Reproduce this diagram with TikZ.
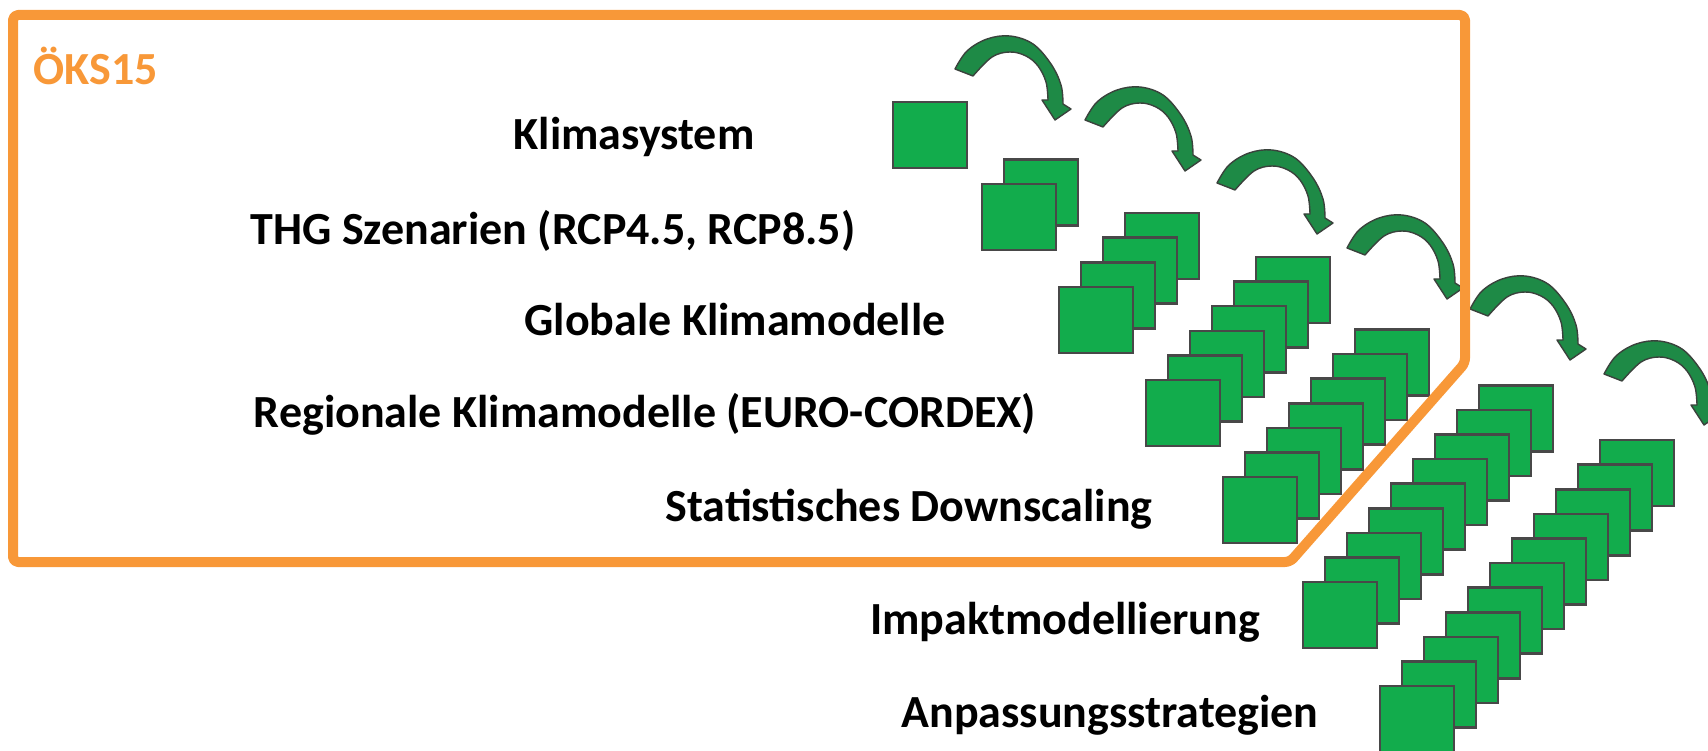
\documentclass[tikz,border=0pt]{standalone}
\usepackage{fontspec}
\setmainfont{Carlito}
\definecolor{okorange}{RGB}{248,152,56}
\definecolor{sqgreen}{RGB}{18,172,76}
\definecolor{sqedge}{RGB}{72,72,72}
\definecolor{arrgreen}{RGB}{30,138,70}
\definecolor{arredge}{RGB}{58,66,60}
\begin{document}
\begin{tikzpicture}[x=1pt,y=-1pt,
  lbl/.style={font=\fontsize{46}{52}\selectfont\bfseries, anchor=base, inner sep=0pt},
  sq/.style={draw=sqedge, fill=sqgreen, line width=2.6pt, minimum width=74pt, minimum height=66pt, inner sep=0pt, outer sep=0pt},
  curvarrow/.style={fill=arrgreen, draw=arredge, line width=1.4pt, line join=round},
  okframe/.style={draw=okorange, line width=10pt, rounded corners=5pt, line join=round}]
\useasboundingbox (0,0) rectangle (1708,751);
\fill[white] (0,0) rectangle (1708,751);

% stacks of squares
\foreach \x/\y/\n [count=\s] in {893/102/1, 982/184/2, 1059/287/4, 1146/380/6, 1223/477/7, 1303/582/9, 1380/686/11} {
  \foreach \k in {\n,...,1} {
    \node[sq] (s\s-\k) at ({\x+37+22*(\k-1)}, {\y+33-24.6*(\k-1)}) {};
  }
}

% curved arrows
\foreach \tx/\ty in {955/69, 1085/120, 1217/183, 1347/248, 1470/309, 1604/374} {
  \begin{scope}[shift={(\tx,\ty)}]
    \draw[curvarrow] plot[smooth, tension=0.6] coordinates {(0,0) (12,-18) (32,-30) (55,-33) (78,-25) (96,-5) (106,16) (108,35)}
      -- (116,40) -- (100,51) -- (87,31) -- (93,31)
      -- plot[smooth, tension=0.6] coordinates {(93,31) (91,13) (83,-3) (71,-13) (55,-17) (37,-12) (18,7)} -- cycle;
  \end{scope}
}

% frame
\draw[okframe] (13,15) -- (1465,15) -- (1465,363) -- (1290,562) -- (13,562) -- cycle;

% labels
\node[lbl, text=okorange] (oks) at (96,85) {ÖKS15};
\node[lbl] (t1) at (634,150) {Klimasystem};
\node[lbl] (t2) at (553,245) {THG Szenarien (RCP4.5, RCP8.5)};
\node[lbl] (t3) at (735,335) {Globale Klimamodelle};
\node[lbl] (t4) at (645,427) {Regionale Klimamodelle (EURO-CORDEX)};
\node[lbl] (t5) at (909,521) {Statistisches Downscaling};
\node[lbl] (t6) at (1065,634) {Impaktmodellierung};
\node[lbl] (t7) at (1110,727) {Anpassungsstrategien};
\end{tikzpicture}
\end{document}
